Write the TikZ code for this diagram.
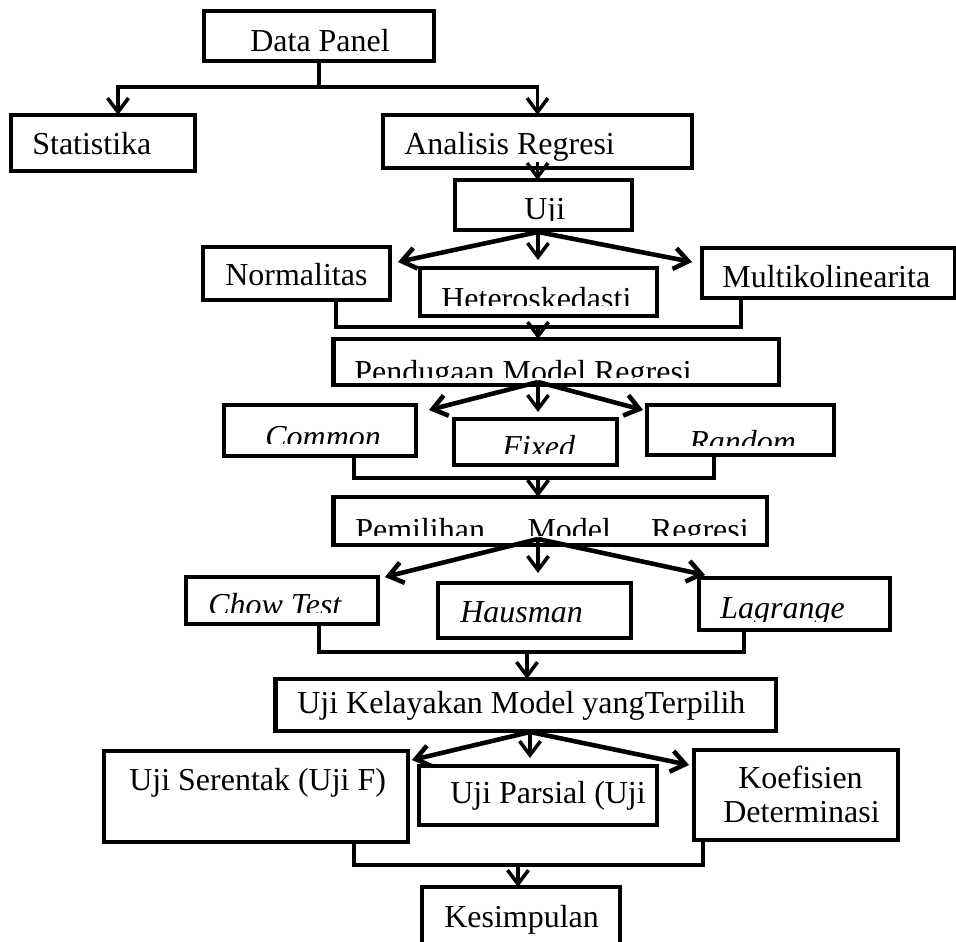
\documentclass[tikz,border=0pt]{standalone}
\usepackage{fontspec}
\setmainfont{Liberation Serif}
\usetikzlibrary{arrows.meta}

\begin{document}
\begin{tikzpicture}[
            x=0.02cm, y=-0.02cm,
            box/.style={draw, line width=2.8pt, inner sep=0pt, outer sep=0pt},
            txt/.style={font=\fontsize{18.2}{20}\selectfont, inner sep=0pt, anchor=base west},
            line/.style={line width=2pt},
            arr/.style={line width=2pt, -{Straight Barb[length=0.28cm,width=0.42cm]}},
            fan/.style={line width=2.6pt, -{Straight Barb[length=0.28cm,width=0.42cm]}}
            ]
            \useasboundingbox (0,0) rectangle (956,942);

            % boxes
            \node[box, minimum width=4.6cm, minimum height=1.0cm] (dp) at (319,36) {};
            \node[box, minimum width=3.68cm, minimum height=1.12cm] (stat) at (103,143) {};
            \node[box, minimum width=6.18cm, minimum height=1.06cm] (ar) at (537.5,141.5) {};
            \node[box, minimum width=3.54cm, minimum height=1.0cm] (uji) at (543.5,205) {};
            \node[box, minimum width=3.74cm, minimum height=1.06cm] (norm) at (296.5,273.5) {};
            \node[box, minimum width=4.74cm, minimum height=0.96cm] (het) at (538.5,292) {};
            \node[box, minimum width=5.06cm, minimum height=1.0cm] (multi) at (828.5,273) {};
            \node[box, minimum width=8.92cm, minimum height=0.92cm] (pend) at (556,362) {};
            \node[box, minimum width=3.84cm, minimum height=1.02cm] (common) at (320,430.5) {};
            \node[box, minimum width=3.26cm, minimum height=0.92cm] (fixed) at (535.5,442) {};
            \node[box, minimum width=3.74cm, minimum height=1.0cm] (random) at (740.5,430) {};
            \node[box, minimum width=8.68cm, minimum height=0.96cm] (pemil) at (550,521) {};
            \node[box, minimum width=3.84cm, minimum height=0.94cm] (chow) at (282,600.5) {};
            \node[box, minimum width=3.86cm, minimum height=1.1cm] (haus) at (534.5,610.5) {};
            \node[box, minimum width=3.82cm, minimum height=1.04cm] (lagr) at (794.5,604) {};
            \node[box, minimum width=10.02cm, minimum height=1.04cm] (kel) at (525.5,705) {};
            \node[box, minimum width=6.08cm, minimum height=1.82cm] (ser) at (256,796.5) {};
            \node[box, minimum width=4.76cm, minimum height=1.18cm] (pars) at (538,795.5) {};
            \node[box, minimum width=4.08cm, minimum height=1.8cm] (koef) at (796,795) {};
            \node[box, minimum width=3.96cm, minimum height=1.32cm] (kes) at (521,920) {};

            % texts
            \node[txt] (dp-t) at (250,52) {Data Panel};
            \node[txt] (stat-t) at (32,155) {Statistika};
            \node[txt] (ar-t) at (404,155) {Analisis Regresi};
            \node[txt] (norm-t) at (225,286) {Normalitas};
            \node[txt] (multi-t) at (722,288) {Multikolinearita};
            \node[txt] (haus-t) at (460,622) {\textit{Hausman}};
            \node[txt] (kel-t) at (297,713) {Uji Kelayakan Model yangTerpilih};
            \node[txt] (ser-t) at (129,790) {Uji Serentak (Uji F)};
            \node[txt] (pars-t) at (450,803) {Uji Parsial (Uji};
            \node[txt] (koef-t) at (738,788) {Koefisien};
            \node[txt] (det-t) at (723,822) {Determinasi};
            \node[txt] (kes-t) at (444,927) {Kesimpulan};

            % texts cut off at the bottom
            \foreach \n/\x/\b/\c/\t in {uji-t/524/220/221/Uji,
                    het-t/441/310/306/Heteroskedasti,
                    pend-t/354/382/377/Pendugaan Model Regresi,
                    common-t/265/447/443/\textit{Common},
                    fixed-t/502/457/453/\textit{Fixed},
                    random-t/689/452/445/\textit{Random},
                    pemil-t/355/540/535/Pemilihan\hspace*{0.85cm}Model\hspace*{0.8cm}Regresi,
                    chow-t/208/615/612/\textit{Chow Test},
                    lagr-t/720/618/621/\textit{Lagrange}}{
                \begin{scope}
                    \clip (\x-20,\b-40) rectangle (\x+480,\c);
                    \node[txt] (\n) at (\x,\b) {\t};
                \end{scope}
            }

            % Data Panel
            \coordinate (j1) at (319,87);
            \draw[line] (dp.south) -- (j1);
            \draw[arr] (j1) -| ([xshift=0.3cm]stat.north);
            \draw[arr] (j1) -| (ar.north);
            \draw[arr] ([yshift=0.12cm]ar.south) -- (ar.south |- uji.north);

            % Uji
            \coordinate (f1) at (538,232);
            \draw[fan] (f1) -- ([xshift=0.16cm,yshift=-0.3cm]norm.north east);
            \draw[arr] (f1) -- ([yshift=0.16cm]f1 |- het.north);
            \draw[fan] (f1) -- ([xshift=-0.2cm,yshift=-0.28cm]multi.north west);
            \coordinate (j2) at (538,327);
            \draw[line] ([xshift=0.79cm]norm.south) |- (j2) -| ([xshift=-1.75cm]multi.south);
            \draw[arr] (j2) -- (j2 |- pend.north);

            % Pendugaan
            \coordinate (f2) at (538,382);
            \draw[fan] (f2) -- ([xshift=0.26cm,yshift=-0.1cm]common.north east);
            \draw[arr] (f2) -- ([yshift=0.14cm]f2 |- fixed.north);
            \draw[fan] (f2) -- ([xshift=-0.08cm,yshift=-0.1cm]random.north west);
            \coordinate (j3) at (538,478);
            \draw[line] ([xshift=0.68cm]common.south) |- (j3) -| ([xshift=-0.53cm]random.south);
            \draw[arr] (j3) -- (j3 |- pemil.north);

            % Pemilihan
            \coordinate (f3) at (538,539);
            \draw[fan] (f3) -- ([xshift=0.14cm]chow.north east);
            \draw[arr] (f3) -- ([yshift=0.2cm]f3 |- haus.north);
            \draw[fan] (f3) -- ([xshift=0.12cm,yshift=0.06cm]lagr.north west);
            \coordinate (j4) at (527,652);
            \draw[line] ([xshift=0.74cm]chow.south) |- (j4) -| ([xshift=-1.01cm]lagr.south);
            \draw[arr] (j4) -- (j4 |- kel.north);

            % Uji Kelayakan
            \coordinate (f4) at (530,732);
            \draw[fan] (f4) -- ([xshift=0.08cm,yshift=-0.18cm]ser.north east);
            \draw[arr] (f4) -- ([yshift=0.16cm]f4 |- pars.north);
            \draw[fan] (f4) -- ([xshift=-0.1cm,yshift=-0.3cm]koef.north west);
            \coordinate (j5) at (518,865);
            \draw[line] ([xshift=1.96cm]ser.south) |- (j5) -| ([xshift=-1.86cm]koef.south);
            \draw[arr] (j5) -- (j5 |- kes.north);
        \end{tikzpicture}
\end{document}
